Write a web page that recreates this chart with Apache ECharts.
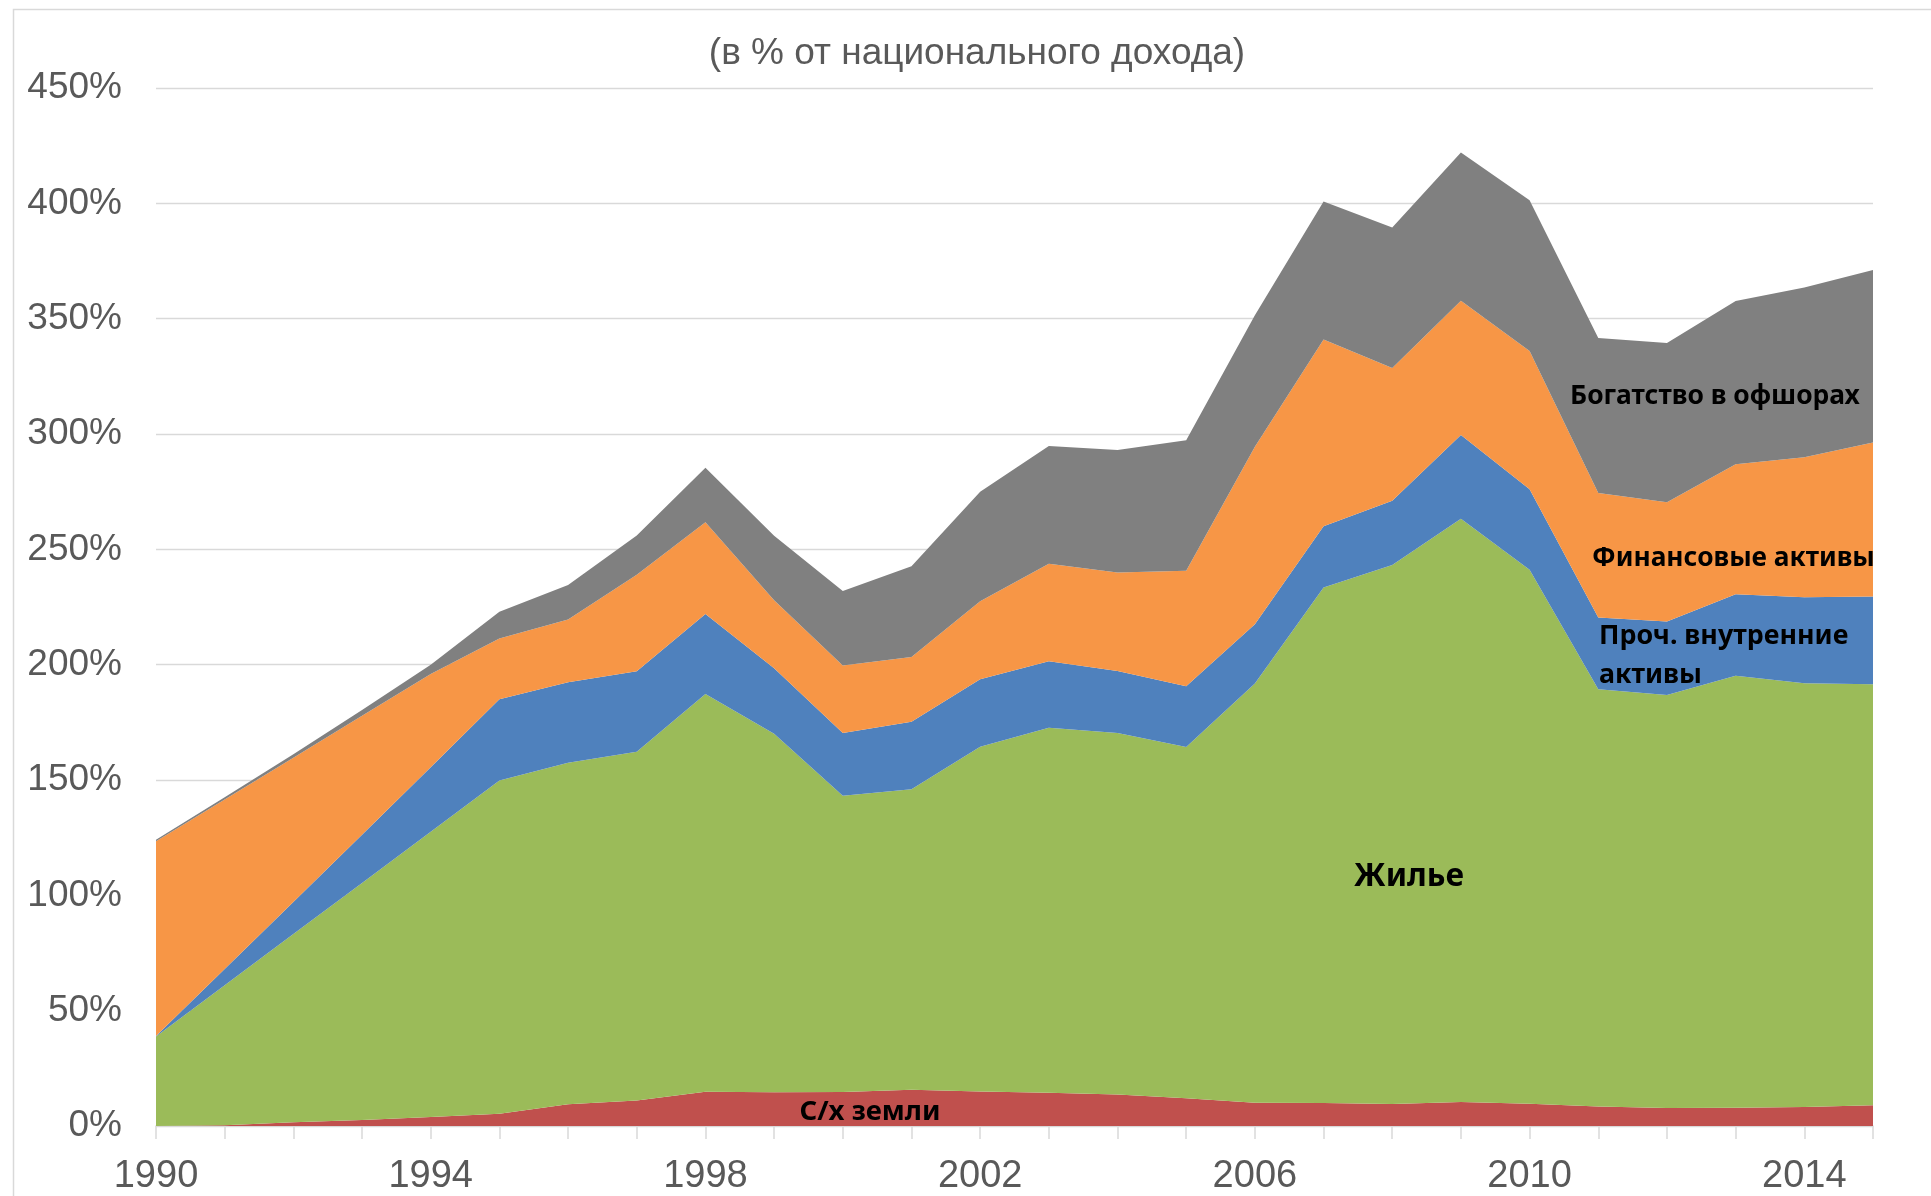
<!DOCTYPE html>
<html>
<head>
<meta charset="utf-8">
<title>Богатство</title>
<script src="https://cdn.jsdelivr.net/npm/echarts@6/dist/echarts.min.js"></script>
<style>
  html, body { margin: 0; padding: 0; background: #ffffff; }
  #chart { width: 1931px; height: 1196px; }
</style>
</head>
<body>
<div id="chart"></div>
<script>
// годы
const years = ['1990', '1991', '1992', '1993', '1994', '1995', '1996', '1997', '1998', '1999',
  '2000', '2001', '2002', '2003', '2004', '2005', '2006', '2007', '2008', '2009',
  '2010', '2011', '2012', '2013', '2014', '2015'];

// ряды, % от национального дохода (снизу вверх)
const farmLand = [0, 0.3, 1.6, 2.6, 3.9, 5.3, 9.4, 11.1, 14.9, 14.6, 14.7, 15.7, 15.0,
  14.4, 13.7, 12.0, 10.1, 10.0, 9.5, 10.4, 9.7, 8.4, 7.8, 7.9, 8.2, 9.0];
const housing = [38.8, 60.7, 81.6, 102.8, 123.7, 144.5, 148.1, 151.2, 172.4, 155.4, 128.5,
  130.3, 149.4, 158.2, 156.7, 152.3, 181.7, 223.5, 233.7, 252.9, 231.5, 180.9, 179.1,
  187.3, 183.7, 182.5];
const otherDomestic = [0.2, 7.1, 13.9, 20.9, 27.9, 35.2, 34.9, 34.9, 34.7, 28.4, 27.2, 29.2,
  29.3, 28.9, 26.9, 26.3, 25.7, 26.5, 27.9, 36.3, 34.9, 31.2, 31.8, 35.3, 37.3, 38.0];
const financial = [84.4, 73.4, 62.6, 51.5, 40.5, 26.3, 27.2, 41.8, 39.7, 29.5, 29.2, 28.1,
  33.8, 42.2, 42.7, 50.1, 77.0, 81.0, 57.5, 58.2, 59.9, 53.9, 51.7, 56.4, 60.7, 66.8];
const offshore = [0.7, 1.0, 1.5, 2.5, 4.0, 11.6, 14.9, 17.0, 23.7, 28.0, 32.3, 39.4, 47.5,
  51.1, 53.1, 56.6, 57.0, 59.8, 60.9, 64.2, 65.3, 67.2, 69.0, 70.8, 73.6, 74.8];

const seriesNames = ['С/х земли', 'Жилье', 'Проч. внутренние активы', 'Финансовые активы', 'Богатство в офшорах'];
const seriesColors = ['#C0504D', '#9BBB59', '#4F81BD', '#F79646', '#808080'];
const yTicks = { min: 0, max: 450, interval: 50 };

const labelFont = '"Noto Sans", "DejaVu Sans", sans-serif';
const axisFont = 'Arial, "Liberation Sans", sans-serif';

function makeArea(name, data, color) {
  return {
    name: name,
    type: 'line',
    stack: 'total',
    data: data,
    symbol: 'none',
    showSymbol: false,
    lineStyle: { width: 0 },
    areaStyle: { color: color, opacity: 1 },
    itemStyle: { color: color },
    emphasis: { disabled: true },
    animation: false
  };
}

function label(text, x, y, size, align) {
  return {
    type: 'text', z: 100, silent: true,
    style: { text: text, x: x, y: y, align: align, verticalAlign: 'middle',
      font: 'bold ' + size + 'px ' + labelFont, fill: '#000000' }
  };
}

const chart = echarts.init(document.getElementById('chart'), null, { renderer: 'canvas' });

const option = {
  backgroundColor: '#ffffff',
  animation: false,
  title: {
    text: '(в % от национального дохода)',
    left: 972,
    top: 30,
    textAlign: 'center',
    textStyle: {
      fontFamily: axisFont,
      fontSize: 37,
      fontWeight: 'normal',
      color: '#595959'
    }
  },
  grid: { left: 156, right: 58, top: 88, bottom: 70, containLabel: false },
  xAxis: {
    type: 'category',
    boundaryGap: false,
    data: years,
    axisLine: { lineStyle: { color: '#d9d9d9', width: 1.5 } },
    axisTick: { show: true, interval: 0, length: 13, lineStyle: { color: '#d9d9d9', width: 1.5 } },
    axisLabel: {
      interval: 3,
      margin: 32,
      fontFamily: axisFont,
      fontSize: 38,
      color: '#595959'
    },
    splitLine: { show: false }
  },
  yAxis: {
    type: 'value',
    min: yTicks.min,
    max: yTicks.max,
    interval: yTicks.interval,
    axisLine: { show: false },
    axisTick: { show: false },
    axisLabel: {
      margin: 34,
      formatter: '{value}%',
      fontFamily: axisFont,
      fontSize: 37,
      color: '#595959',
      verticalAlign: 'middle',
      padding: [8, 0, 0, 0]
    },
    splitLine: { lineStyle: { color: '#d9d9d9', width: 1.3 } }
  },
  series: [
    makeArea(seriesNames[0], farmLand, seriesColors[0]),
    makeArea(seriesNames[1], housing, seriesColors[1]),
    makeArea(seriesNames[2], otherDomestic, seriesColors[2]),
    makeArea(seriesNames[3], financial, seriesColors[3]),
    makeArea(seriesNames[4], offshore, seriesColors[4])
  ],
  graphic: [
    // рамка области диаграммы (видны левая и верхняя стороны)
    {
      type: 'rect', silent: true, z: -1,
      shape: { x: 13.5, y: 9.5, width: 1940, height: 1220 },
      style: { fill: null, stroke: '#d9d9d9', lineWidth: 1.5 }
    },
    label('Богатство в офшорах', 1570, 396, 26.4, 'left'),
    label('Финансовые активы', 1592, 559, 26.3, 'left'),
    label('Проч. внутренние', 1599, 636, 26.8, 'left'),
    label('активы', 1599, 675, 26.8, 'left'),
    label('Жилье', 1409, 877, 31.7, 'center'),
    label('С/х земли', 870, 1112, 27.5, 'center')
  ]
};

chart.setOption(option);
</script>
</body>
</html>
